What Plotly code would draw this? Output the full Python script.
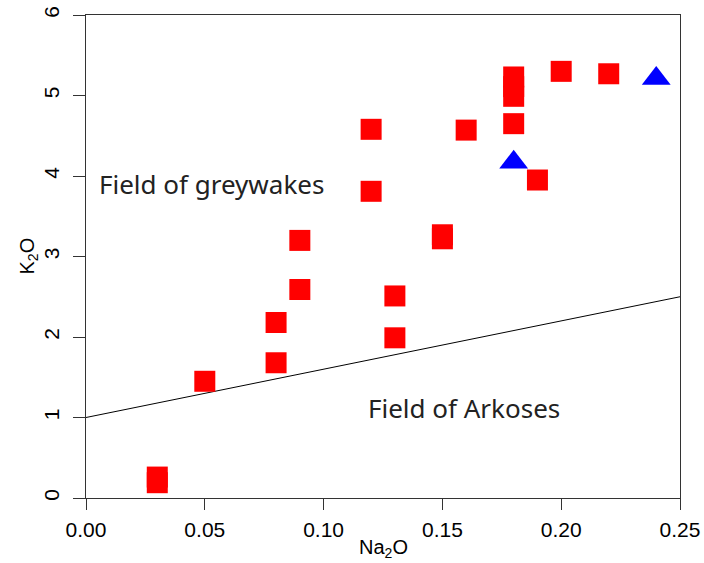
import plotly.graph_objects as go

# Red squares (greywake samples)
sq_x = [0.03, 0.03, 0.05, 0.08, 0.08, 0.09, 0.09, 0.12, 0.12, 0.13, 0.13,
        0.15, 0.15, 0.16, 0.18, 0.18, 0.18, 0.18, 0.19, 0.20, 0.22]
sq_y = [0.26, 0.19, 1.45, 1.68, 2.18, 2.59, 3.20, 3.81, 4.58, 2.51, 1.99,
        3.27, 3.22, 4.57, 5.23, 5.11, 4.99, 4.65, 3.95, 5.30, 5.27]
# Blue triangles
tri_x = [0.18, 0.24]
tri_y = [4.17, 5.21]
# Dividing line K2O = 1 + 6*Na2O
line_x = [0.0, 0.25]
line_y = [1.0, 2.5]

x_ticks = [0.00, 0.05, 0.10, 0.15, 0.20, 0.25]
x_ticktext = ["0.00", "0.05", "0.10", "0.15", "0.20", "0.25"]
y_ticks = [0, 1, 2, 3, 4, 5, 6]

fig = go.Figure()
fig.add_trace(go.Scatter(x=line_x, y=line_y, mode="lines",
                         line=dict(color="black", width=1), showlegend=False))
fig.add_trace(go.Scatter(x=sq_x, y=sq_y, mode="markers",
                         marker=dict(symbol="square", size=21, color="#ff0000",
                                     line=dict(width=0)), showlegend=False))
fig.add_trace(go.Scatter(x=tri_x, y=tri_y, mode="markers",
                         marker=dict(symbol="triangle-up", size=25, color="#0000ff",
                                     line=dict(width=0)), showlegend=False))

tickfont = dict(family="Liberation Sans, Arial, sans-serif", size=21, color="black")
fig.update_xaxes(range=[0, 0.25], tickvals=x_ticks, ticktext=x_ticktext,
                 ticks="outside", ticklen=11, tickwidth=1, tickcolor="#333",
                 showline=True, linecolor="#333", linewidth=1, mirror=True,
                 showgrid=False, zeroline=False, tickfont=tickfont,
                 automargin=False, ticklabelstandoff=2)
fig.update_yaxes(range=[0, 6], tickvals=y_ticks,
                 ticks="outside", ticklen=12, tickwidth=1, tickcolor="#333",
                 showline=True, linecolor="#333", linewidth=1, mirror=True,
                 showgrid=False, zeroline=False, tickfont=tickfont, tickangle=-90,
                 automargin=False, ticklabelstandoff=6)

textfont = dict(family="Noto Sans, Open Sans, sans-serif", size=26, color="#222")
titlefont = dict(family="Liberation Sans, Arial, sans-serif", size=20, color="black")
annos = [
    dict(x=0.053, y=3.90, xref="x", yref="y", text="Field of greywakes",
         showarrow=False, font=textfont),
    dict(x=0.159, y=1.12, xref="x", yref="y", text="Field of Arkoses",
         showarrow=False, font=textfont),
    dict(x=0.5, y=0, xref="paper", yref="paper", xanchor="center", yanchor="middle",
         yshift=-50, text="Na<sub>2</sub>O", showarrow=False, font=titlefont),
    dict(x=0, y=0.5, xref="paper", yref="paper", xanchor="center", yanchor="middle",
         xshift=-58, text="K<sub>2</sub>O", textangle=-90, showarrow=False,
         font=titlefont),
]
fig.update_layout(width=704, height=563, margin=dict(l=86, r=24, t=15, b=65),
                  plot_bgcolor="white", paper_bgcolor="white", annotations=annos)

fig.write_html("out.html")
